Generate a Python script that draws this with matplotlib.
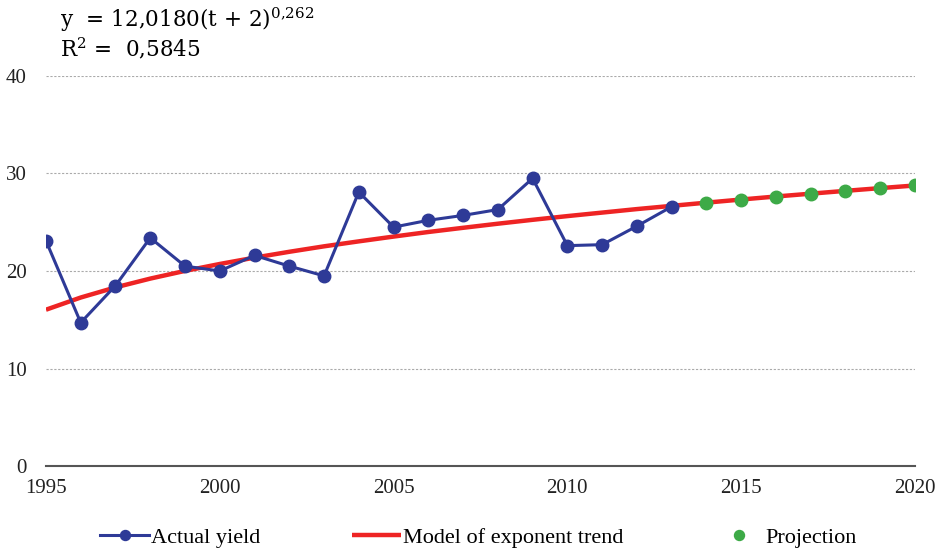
import matplotlib
matplotlib.use("Agg")
import matplotlib.pyplot as plt

years_actual = list(range(1995, 2014))
actual_yield = [23.1, 14.7, 18.5, 23.4, 20.5, 20.0, 21.6, 20.5, 19.5, 28.1,
                24.5, 25.2, 25.7, 26.3, 29.5, 22.6, 22.7, 24.6, 26.6]
years_trend = list(range(1995, 2021))
trend_values = [16.03, 17.28, 18.32, 19.22, 20.01, 20.72, 21.37, 21.97, 22.53, 23.04,
                23.53, 24.00, 24.43, 24.85, 25.25, 25.63, 25.99, 26.35, 26.68, 27.01,
                27.33, 27.64, 27.93, 28.22, 28.50, 28.77]
years_proj = list(range(2014, 2021))
projection = [27.01, 27.33, 27.64, 27.93, 28.22, 28.50, 28.77]
x_ticks = [1995, 2000, 2005, 2010, 2015, 2020]
y_ticks = [0, 10, 20, 30, 40]

plt.rcParams['font.family'] = ['Liberation Serif', 'DejaVu Serif']
plt.rcParams['mathtext.fontset'] = 'dejavuserif'

fig = plt.figure(figsize=(9.42, 5.53), dpi=100)
ax = fig.add_axes([0.0488, 0.1573, 0.9225, 0.7053])

ax.plot(years_trend, trend_values, color='#EE2424', lw=3.2, zorder=3,
        label='Model of exponent trend', solid_capstyle='butt')
ax.plot(years_actual, actual_yield, color='#2E3A97', lw=2.2, marker='o', ms=9,
        zorder=4, label='Actual yield')
ax.plot(years_proj, projection, ls='none', marker='o', ms=9, color='#3DAA47',
        zorder=5, label='Projection')

ax.set_xlim(1995, 2020)
ax.set_ylim(0, 40)
ax.set_xticks(x_ticks)
ax.set_yticks(y_ticks)
ax.tick_params(length=0, labelsize=15, colors='#222222')
ax.tick_params(axis='x', pad=9)
ax.tick_params(axis='y', pad=14)
for s in ['top', 'right', 'left']:
    ax.spines[s].set_visible(False)
ax.spines['bottom'].set_color('#555555')
ax.spines['bottom'].set_linewidth(1.5)
ax.grid(axis='y', ls=(0, (2, 1.5)), color='#AAAAAA', lw=0.8)
ax.set_axisbelow(True)

fig.text(0.064, 0.965, r'y  = 12,0180(t + 2)$^{0{,}262}$', fontsize=15.5, va='center',
         family=['DejaVu Serif'])
fig.text(0.064, 0.913, r'R$^{2}$ =  0,5845', fontsize=15.5, va='center',
         family=['DejaVu Serif'])

handles, labels = ax.get_legend_handles_labels()
order = [1, 0, 2]
leg = fig.legend([handles[i] for i in order], [labels[i] for i in order],
                 loc='center', bbox_to_anchor=(0.508, 0.028), ncol=3, frameon=False,
                 fontsize=16, handlelength=2.2, handletextpad=0.1, columnspacing=4.1,
                 markerscale=0.8)

fig.savefig('out.png', dpi=100)
